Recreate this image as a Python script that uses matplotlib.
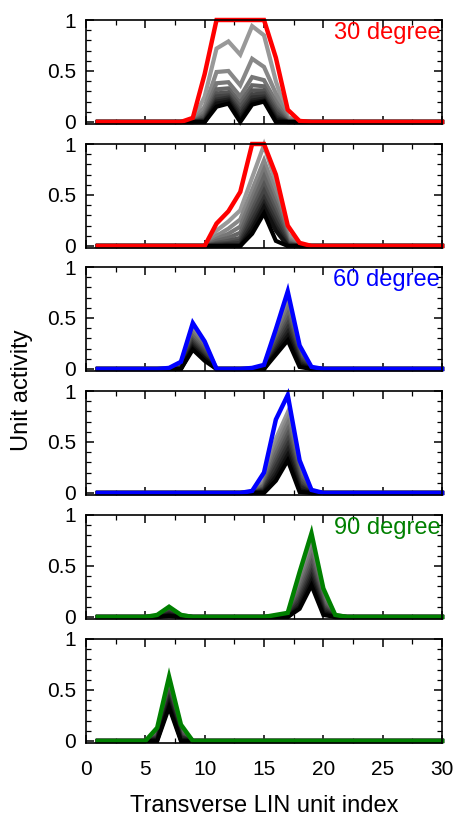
import numpy as np
import matplotlib
matplotlib.use("Agg")
import matplotlib.pyplot as plt
from matplotlib.ticker import MultipleLocator

plt.rcParams["font.family"] = ["Liberation Sans", "DejaVu Sans"]

x = np.arange(1, 31)

# each panel: first unit index of the window, coloured (final) curve, grey curves (light -> black)
p1_start = 9
p1_top = [0.04, 0.47, 1.0, 1.0, 1.0, 1.0, 1.0, 0.63, 0.12, 0.01]
p1_grey = [
    [0.01, 0.25, 0.72, 0.79, 0.66, 0.94, 0.85, 0.40, 0.05, 0],
    [0, 0.15, 0.49, 0.50, 0.36, 0.62, 0.54, 0.28, 0.03, 0],
    [0, 0.10, 0.38, 0.39, 0.25, 0.44, 0.41, 0.20, 0.02, 0],
    [0, 0.07, 0.32, 0.33, 0.19, 0.36, 0.35, 0.15, 0.01, 0],
    [0, 0.05, 0.28, 0.29, 0.15, 0.31, 0.31, 0.12, 0, 0],
    [0, 0.03, 0.25, 0.26, 0.11, 0.27, 0.28, 0.09, 0, 0],
    [0, 0.02, 0.22, 0.24, 0.08, 0.24, 0.25, 0.06, 0, 0],
    [0, 0.01, 0.20, 0.22, 0.05, 0.21, 0.23, 0.04, 0, 0],
    [0, 0, 0.18, 0.20, 0.02, 0.19, 0.21, 0.02, 0, 0],
    [0, 0, 0.15, 0.18, 0.0, 0.17, 0.20, 0, 0, 0],
]

p2_start = 10
p2_top = [0.0, 0.22, 0.34, 0.53, 1.0, 1.0, 0.70, 0.20, 0.03]
p2_grey = [
    [0, 0.15, 0.24, 0.35, 0.67, 0.99, 0.62, 0.12, 0.01],
    [0, 0.10, 0.17, 0.26, 0.55, 0.84, 0.52, 0.08, 0],
    [0, 0.07, 0.12, 0.19, 0.47, 0.75, 0.45, 0.06, 0],
    [0, 0.05, 0.08, 0.13, 0.41, 0.68, 0.40, 0.04, 0],
    [0, 0.03, 0.05, 0.08, 0.35, 0.60, 0.34, 0.03, 0],
    [0, 0.02, 0.03, 0.05, 0.30, 0.54, 0.29, 0.02, 0],
    [0, 0.01, 0.02, 0.03, 0.25, 0.47, 0.24, 0.01, 0],
    [0, 0, 0.01, 0.01, 0.20, 0.42, 0.19, 0, 0],
    [0, 0, 0, 0, 0.16, 0.38, 0.15, 0, 0],
    [0, 0, 0, 0, 0.12, 0.32, 0.05, 0, 0],
]

p3_start = 7
p3_top = [0.01, 0.07, 0.45, 0.27, 0, 0, 0, 0.01, 0.04, 0.39, 0.76, 0.23, 0.02, 0]
p3_grey = [
    [0, 0.06, 0.42, 0.25, 0, 0, 0, 0, 0.03, 0.36, 0.70, 0.21, 0.01, 0],
    [0, 0.05, 0.38, 0.23, 0, 0, 0, 0, 0.02, 0.33, 0.64, 0.19, 0.01, 0],
    [0, 0.04, 0.35, 0.21, 0, 0, 0, 0, 0.02, 0.30, 0.58, 0.16, 0, 0],
    [0, 0.03, 0.32, 0.19, 0, 0, 0, 0, 0.01, 0.28, 0.53, 0.14, 0, 0],
    [0, 0.02, 0.29, 0.17, 0, 0, 0, 0, 0.01, 0.25, 0.48, 0.12, 0, 0],
    [0, 0.01, 0.27, 0.15, 0, 0, 0, 0, 0.01, 0.23, 0.44, 0.10, 0, 0],
    [0, 0.01, 0.25, 0.13, 0, 0, 0, 0, 0, 0.20, 0.40, 0.08, 0, 0],
    [0, 0, 0.23, 0.11, 0, 0, 0, 0, 0, 0.18, 0.36, 0.06, 0, 0],
    [0, 0, 0.21, 0.10, 0, 0, 0, 0, 0, 0.16, 0.32, 0.04, 0, 0],
    [0, 0, 0.19, 0.08, 0, 0, 0, 0, 0, 0.14, 0.28, 0.02, 0, 0],
]

p4_start = 14
p4_top = [0.02, 0.20, 0.72, 0.96, 0.32, 0.03, 0]
p4_grey = [
    [0.01, 0.12, 0.53, 0.79, 0.26, 0.02, 0],
    [0.01, 0.10, 0.48, 0.73, 0.23, 0.02, 0],
    [0, 0.08, 0.43, 0.68, 0.20, 0.01, 0],
    [0, 0.07, 0.38, 0.62, 0.17, 0.01, 0],
    [0, 0.05, 0.33, 0.57, 0.14, 0.01, 0],
    [0, 0.04, 0.29, 0.52, 0.11, 0, 0],
    [0, 0.03, 0.25, 0.47, 0.08, 0, 0],
    [0, 0.02, 0.20, 0.42, 0.06, 0, 0],
    [0, 0.01, 0.16, 0.37, 0.03, 0, 0],
    [0, 0, 0.12, 0.32, 0.01, 0, 0],
]

p5_start = 5
p5_top = [0, 0.02, 0.10, 0.02, 0, 0, 0, 0, 0, 0, 0, 0.02, 0.04, 0.44, 0.82, 0.28, 0.02, 0]
p5_grey = [
    [0, 0.01, 0.09, 0.02, 0, 0, 0, 0, 0, 0, 0, 0.01, 0.03, 0.38, 0.75, 0.24, 0.02, 0],
    [0, 0.01, 0.08, 0.01, 0, 0, 0, 0, 0, 0, 0, 0.01, 0.03, 0.34, 0.69, 0.21, 0.01, 0],
    [0, 0.01, 0.07, 0.01, 0, 0, 0, 0, 0, 0, 0, 0, 0.02, 0.30, 0.63, 0.18, 0.01, 0],
    [0, 0.01, 0.06, 0.01, 0, 0, 0, 0, 0, 0, 0, 0, 0.02, 0.26, 0.57, 0.15, 0.01, 0],
    [0, 0, 0.05, 0.01, 0, 0, 0, 0, 0, 0, 0, 0, 0.01, 0.22, 0.52, 0.12, 0, 0],
    [0, 0, 0.05, 0, 0, 0, 0, 0, 0, 0, 0, 0, 0.01, 0.19, 0.47, 0.10, 0, 0],
    [0, 0, 0.04, 0, 0, 0, 0, 0, 0, 0, 0, 0, 0.01, 0.16, 0.43, 0.08, 0, 0],
    [0, 0, 0.03, 0, 0, 0, 0, 0, 0, 0, 0, 0, 0, 0.13, 0.39, 0.06, 0, 0],
    [0, 0, 0.02, 0, 0, 0, 0, 0, 0, 0, 0, 0, 0, 0.10, 0.35, 0.04, 0, 0],
    [0, 0, 0.01, 0, 0, 0, 0, 0, 0, 0, 0, 0, 0, 0.08, 0.31, 0.02, 0, 0],
]

p6_start = 5
p6_top = [0, 0.13, 0.63, 0.16, 0]
p6_grey = [
    [0, 0.10, 0.58, 0.13, 0],
    [0, 0.08, 0.55, 0.11, 0],
    [0, 0.07, 0.52, 0.10, 0],
    [0, 0.06, 0.49, 0.08, 0],
    [0, 0.05, 0.46, 0.07, 0],
    [0, 0.04, 0.44, 0.05, 0],
    [0, 0.03, 0.41, 0.04, 0],
    [0, 0.02, 0.39, 0.03, 0],
    [0, 0.01, 0.36, 0.01, 0],
    [0, 0, 0.33, 0, 0],
]

panels = [
    (p1_start, p1_top, p1_grey, "red", "30 degree"),
    (p2_start, p2_top, p2_grey, "red", None),
    (p3_start, p3_top, p3_grey, "blue", "60 degree"),
    (p4_start, p4_top, p4_grey, "blue", None),
    (p5_start, p5_top, p5_grey, "green", "90 degree"),
    (p6_start, p6_top, p6_grey, "green", None),
]


def full(start, vals):
    y = np.zeros(len(x))
    y[start - 1:start - 1 + len(vals)] = vals
    return y


W, H = 458, 817
fig = plt.figure(figsize=(W / 100, H / 100), dpi=100)
tops = [20, 144, 267, 391, 515, 639]
ph = 104
left, right = 86, 442

axes = []
for i, (start, top, grey, col, label) in enumerate(panels):
    ax = fig.add_axes([left / W, 1 - (tops[i] + ph) / H, (right - left) / W, ph / H])
    axes.append(ax)
    shades = np.linspace(0.6, 0.0, len(grey))
    for g, s in zip(grey, shades):
        ax.plot(x, full(start, g), color=str(s), lw=3.0, solid_joinstyle="miter",
                clip_on=False)
    ax.plot(x, full(start, top), color=col, lw=3.2, solid_joinstyle="miter",
            clip_on=False)
    if label:
        ax.text(0.995, 0.985, label, color=col, fontsize=17, ha="right", va="top",
                transform=ax.transAxes)
    ax.set_xlim(0, 30)
    ax.set_ylim(-0.02, 1.0)
    ax.xaxis.set_major_locator(MultipleLocator(5))
    ax.xaxis.set_minor_locator(MultipleLocator(2.5))
    ax.yaxis.set_minor_locator(MultipleLocator(0.1))
    ax.set_yticks([0, 0.5, 1])
    ax.set_yticklabels(["0", "0.5", "1"])
    ax.tick_params(which="both", direction="in", top=True, right=True, labelsize=15)
    ax.tick_params(which="major", length=6, width=1.1, pad=7)
    ax.tick_params(which="minor", length=3.5, width=0.9)
    ax.tick_params(axis="x", which="major", pad=12)
    for sp in ax.spines.values():
        sp.set_linewidth(1.2)
    if i < 5:
        ax.set_xticklabels([])

axes[-1].set_xlabel("Transverse LIN unit index", fontsize=17, labelpad=12)
fig.text(22 / W, 1 - 390 / H, "Unit activity", rotation=90, fontsize=17,
         ha="center", va="center")

fig.savefig("out.png", dpi=100)
